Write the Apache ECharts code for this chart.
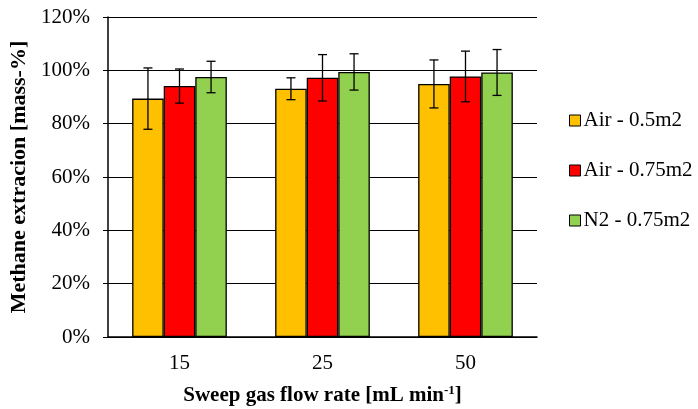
<!DOCTYPE html>
<html><head><meta charset="utf-8">
<script src="https://cdn.jsdelivr.net/npm/echarts@6/dist/echarts.min.js"></script>
<style>html,body{margin:0;padding:0;background:#fff}#c{width:698px;height:409px}</style>
</head><body><div id="c"></div>
<script>
var categories = ['15', '25', '50'];
var seriesNames = ['Air - 0.5m2', 'Air - 0.75m2', 'N2 - 0.75m2'];
var airSmall = [89.4, 93.1, 94.9];
var airLarge = [94.1, 97.2, 97.7];
var n2Large = [97.5, 99.4, 99.2];
var airSmallErr = [11.5, 4.1, 9.0];
var airLargeErr = [6.4, 8.7, 9.5];
var n2LargeErr = [5.9, 6.8, 8.6];
var colors = ['#FFC000', '#FF0000', '#92D050'];
var yTicks = [0, 20, 40, 60, 80, 100, 120];

var values = [airSmall, airLarge, n2Large];
var errs = [airSmallErr, airLargeErr, n2LargeErr];
var catGap = 0.338;
var font = 'Liberation Serif';

var series = values.map(function (v, i) {
  return {
    name: seriesNames[i], type: 'bar', data: v, barGap: '0%', barCategoryGap: (catGap * 100) + '%',
    itemStyle: { color: colors[i], borderColor: '#000', borderWidth: 1.3 }
  };
});
values.forEach(function (v, i) {
  var d = v.map(function (val, k) { return [k, val - errs[i][k], val + errs[i][k]]; });
  series.push({
    type: 'custom', z: 10, data: d,
    renderItem: function (params, api) {
      var cat = api.value(0);
      var bw = api.size([1, 0])[0] * (1 - catGap) / 3;
      var lo = api.coord([cat, api.value(1)]);
      var hi = api.coord([cat, api.value(2)]);
      var x = lo[0] + (i - 1) * bw;
      var cap = 4.5;
      var st = { stroke: '#000', lineWidth: 1.3 };
      return { type: 'group', children: [
        { type: 'line', shape: { x1: x, y1: lo[1], x2: x, y2: hi[1] }, style: st },
        { type: 'line', shape: { x1: x - cap, y1: lo[1], x2: x + cap, y2: lo[1] }, style: st },
        { type: 'line', shape: { x1: x - cap, y1: hi[1], x2: x + cap, y2: hi[1] }, style: st }
      ] };
    }
  });
});

var chart = echarts.init(document.getElementById('c'));
chart.setOption({
  animation: false,
  textStyle: { fontFamily: font },
  grid: { left: 108, right: 161, top: 17, bottom: 72, outerBoundsMode: 'none', containLabel: false },
  legend: {
    orient: 'vertical', left: 564, top: 105, itemGap: 29,
    itemWidth: 11, itemHeight: 11, icon: 'rect',
    data: seriesNames,
    itemStyle: { borderColor: '#000', borderWidth: 1 },
    textStyle: { fontFamily: font, fontSize: 21, color: '#000', padding: [0, 0, 0, -2] }
  },
  xAxis: {
    type: 'category', data: categories,
    axisLine: { lineStyle: { color: '#000', width: 1.5 } },
    axisTick: { lineStyle: { color: '#000' }, length: 6 },
    axisLabel: { color: '#000', fontSize: 21, fontFamily: font, margin: 16 },
    name: '{a|Sweep gas flow rate [mL min}{s|-1}{a|]}',
    nameLocation: 'middle', nameGap: 47,
    nameTextStyle: { rich: {
      a: { fontFamily: font, fontSize: 21, fontWeight: 'bold', color: '#000' },
      s: { fontFamily: font, fontSize: 13, fontWeight: 'bold', color: '#000', padding: [0, 0, 10, 0] }
    } }
  },
  yAxis: {
    type: 'value', min: 0, max: 120, interval: 20,
    axisLine: { show: true, lineStyle: { color: '#000', width: 1.5 } },
    axisTick: { show: true, lineStyle: { color: '#000' }, length: 5 },
    splitLine: { lineStyle: { color: '#000', width: 1.2 } },
    axisLabel: { color: '#000', fontSize: 21, fontFamily: font, margin: 18,
      formatter: function (v) { return yTicks.indexOf(v) >= 0 ? v + '%' : ''; } },
    name: 'Methane extracion [mass-%]', nameLocation: 'middle', nameGap: 71,
    nameTextStyle: { fontFamily: font, fontSize: 22, fontWeight: 'bold', color: '#000' }
  },
  series: series
});
</script></body></html>
